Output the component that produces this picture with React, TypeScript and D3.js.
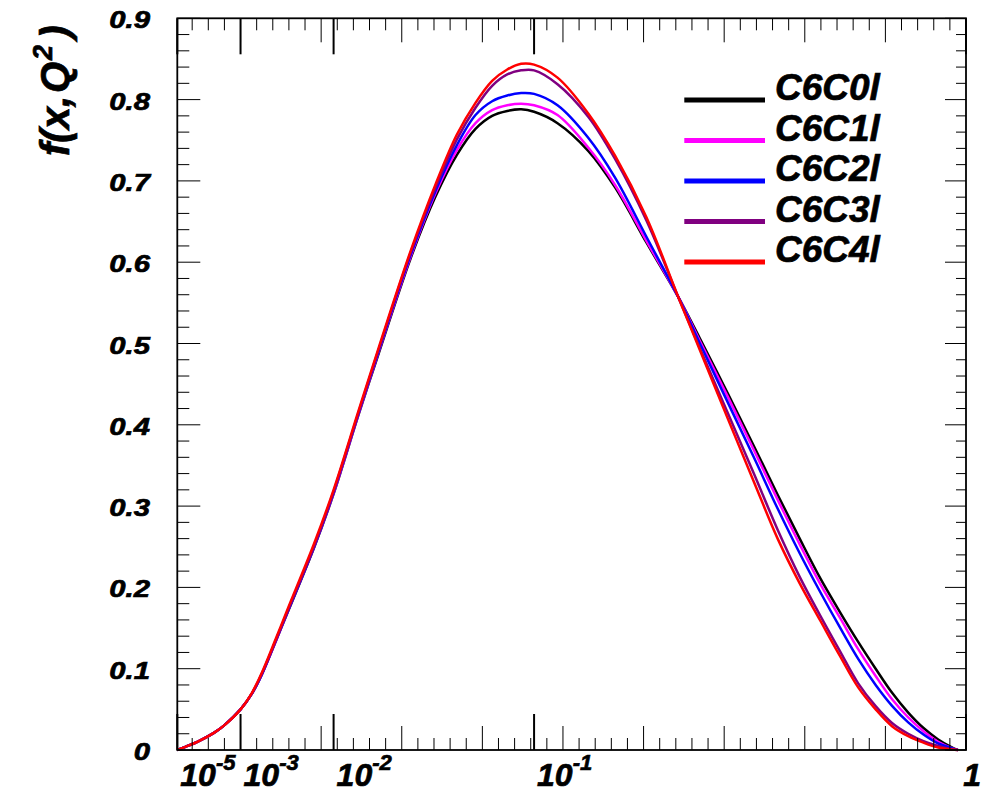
import React from "react";
import * as d3 from "d3";

// ---- data ----
const xValues = [
  1e-5, 5e-5, 1e-4, 3e-4, 5e-4, 1e-3, 1.5e-3, 2e-3, 3e-3, 4e-3, 7e-3, 0.01,
  0.015, 0.02, 0.03, 0.04, 0.05, 0.06, 0.07, 0.08, 0.09, 0.1, 0.12, 0.15, 0.18,
  0.22, 0.266, 0.3, 0.35, 0.4, 0.45, 0.5, 0.55, 0.6, 0.65, 0.7, 0.75, 0.8, 0.85,
  0.9, 0.95, 0.97,
];

const c6c0l = [
  0, 0.006, 0.01, 0.021, 0.03, 0.05, 0.07, 0.092, 0.135, 0.17, 0.249, 0.315,
  0.413, 0.488, 0.604, 0.681, 0.732, 0.764, 0.78, 0.786, 0.788, 0.785, 0.771,
  0.737, 0.692, 0.624, 0.557, 0.507, 0.438, 0.374, 0.314, 0.26, 0.211, 0.17,
  0.133, 0.1, 0.07, 0.046, 0.027, 0.013, 0.003, 0,
];
const c6c1l = [
  0, 0.006, 0.01, 0.021, 0.03, 0.05, 0.07, 0.092, 0.135, 0.171, 0.25, 0.316,
  0.414, 0.49, 0.606, 0.685, 0.738, 0.771, 0.787, 0.793, 0.795, 0.793, 0.781,
  0.741, 0.695, 0.626, 0.557, 0.504, 0.434, 0.369, 0.308, 0.253, 0.204, 0.163,
  0.124, 0.091, 0.062, 0.04, 0.023, 0.01, 0.002, 0,
];
const c6c2l = [
  0, 0.006, 0.01, 0.021, 0.03, 0.05, 0.07, 0.092, 0.136, 0.171, 0.25, 0.317,
  0.415, 0.491, 0.608, 0.688, 0.744, 0.781, 0.798, 0.805, 0.808, 0.807, 0.793,
  0.753, 0.704, 0.631, 0.557, 0.501, 0.427, 0.36, 0.297, 0.242, 0.194, 0.151,
  0.112, 0.08, 0.054, 0.034, 0.019, 0.008, 0.002, 0,
];
const c6c3l = [
  0, 0.006, 0.01, 0.021, 0.03, 0.05, 0.07, 0.093, 0.136, 0.172, 0.251, 0.318,
  0.416, 0.493, 0.611, 0.692, 0.751, 0.79, 0.817, 0.831, 0.836, 0.836, 0.819,
  0.779, 0.727, 0.651, 0.557, 0.495, 0.414, 0.34, 0.271, 0.213, 0.165, 0.122,
  0.082, 0.054, 0.033, 0.02, 0.011, 0.005, 0.001, 0,
];
const c6c4l = [
  0, 0.006, 0.01, 0.021, 0.03, 0.05, 0.071, 0.094, 0.138, 0.174, 0.254, 0.32,
  0.418, 0.495, 0.613, 0.696, 0.757, 0.796, 0.823, 0.837, 0.844, 0.843, 0.827,
  0.783, 0.731, 0.655, 0.557, 0.493, 0.407, 0.33, 0.26, 0.205, 0.159, 0.116,
  0.077, 0.05, 0.029, 0.017, 0.009, 0.003, 0.0005, 0,
];

const seriesNames = ["C6C0l", "C6C1l", "C6C2l", "C6C3l", "C6C4l"];
const seriesColors = ["#000000", "#ff00ff", "#0000ff", "#800080", "#ff0000"];
const seriesValues = [c6c0l, c6c1l, c6c2l, c6c3l, c6c4l];

const xMajorTicks = [1e-5, 1e-3, 1e-2, 1e-1, 1];
const xTickBase = ["10", "10", "10", "10", "1"];
const xTickExp = ["-5", "-3", "-2", "-1", ""];
const yTickLabels = ["0", "0.1", "0.2", "0.3", "0.4", "0.5", "0.6", "0.7", "0.8", "0.9"];

const FONT = "'Liberation Sans', Arial, Helvetica, sans-serif";

export default function App() {
  const left = 177.3;
  const right = 966;
  const top = 18.3;
  const bottom = 750;

  const x = d3.scalePow().exponent(1 / 3).domain([1e-5, 1]).range([left, right]);
  const y = d3.scaleLinear().domain([0, 0.9]).range([bottom, top]);

  // minor ticks linear in x^(1/3), every 0.02; longer each 0.1
  const tMinor = d3.range(2, 50).map((i) => ({ t: i * 0.02, long: i % 5 === 0 }));
  const yMinor = d3.range(0, 46).map((i) => ({ v: i * 0.02, major: i % 5 === 0 }));

  const line = d3
    .line<number>()
    .x((_, i) => x(xValues[i]))
    .y((d) => y(d))
    .curve(d3.curveCatmullRom.alpha(0.5));

  const legendY0 = 100;
  const legendStep = 40.5;
  const textStroke = { stroke: "#000", strokeWidth: 0.7 };

  return (
    <svg
      width={982}
      height={792}
      style={{ position: "absolute", left: 0, top: 0, background: "#fff" }}
      fontFamily={FONT}
    >
      <rect x={0} y={0} width={982} height={792} fill="#fff" />
      <defs>
        <clipPath id="clip">
          <rect x={left} y={top} width={right - left} height={bottom - top + 2} />
        </clipPath>
      </defs>

      {/* curves */}
      <g clipPath="url(#clip)">
        {seriesValues.map((vals, k) => (
          <path
            key={seriesNames[k]}
            d={line(vals) || ""}
            fill="none"
            stroke={seriesColors[k]}
            strokeWidth={2.5}
            strokeLinejoin="round"
          />
        ))}
      </g>

      {/* x minor / long ticks bottom and top */}
      {tMinor.map(({ t, long }, i) => {
        const px = x(t * t * t);
        const len = long ? 24 : 12;
        return (
          <g key={"xt" + i} stroke="#000" strokeWidth={1}>
            <line x1={px} x2={px} y1={bottom} y2={bottom - len} />
            <line x1={px} x2={px} y1={top} y2={top + len} />
          </g>
        );
      })}
      {xMajorTicks.map((v, i) => {
        const px = x(v);
        return (
          <g key={"xm" + i} stroke="#000" strokeWidth={2}>
            <line x1={px} x2={px} y1={bottom} y2={bottom - 36} />
            <line x1={px} x2={px} y1={top} y2={top + 36} />
          </g>
        );
      })}

      {/* y ticks left and right */}
      {yMinor.map(({ v, major }, i) => {
        const py = y(v);
        return (
          <g key={"yt" + i} stroke="#000" strokeWidth={1}>
            <line x1={left} x2={left + (major ? 23 : 12)} y1={py} y2={py} />
            <line x1={right} x2={right - (major ? 21 : 10)} y1={py} y2={py} />
          </g>
        );
      })}

      {/* frame */}
      <rect
        x={left}
        y={top}
        width={right - left}
        height={bottom - top}
        fill="none"
        stroke="#000"
        strokeWidth={1.8}
      />

      {/* y tick labels */}
      {yTickLabels.map((lab, i) => (
        <text
          key={"yl" + i}
          transform={`translate(150,${y(i * 0.1) + 2}) scale(1.22,1)`}
          textAnchor="end"
          dominantBaseline="central"
          fontSize={24}
          fontWeight="bold"
          fontStyle="italic"
          fill="#000"
          {...textStroke}
        >
          {lab}
        </text>
      ))}

      {/* x tick labels */}
      {xMajorTicks.map((v, i) => {
        const last = i === xMajorTicks.length - 1;
        return (
          <text
            key={"xl" + i}
            x={last ? 981 : x(v) + 3}
            y={786}
            textAnchor={last ? "end" : "start"}
            fontSize={32}
            fontWeight="bold"
            fontStyle="italic"
            fill="#000"
            {...textStroke}
          >
            {xTickBase[i]}
            {xTickExp[i] ? (
              <tspan dy={-16} fontSize={22}>
                {xTickExp[i]}
              </tspan>
            ) : null}
          </text>
        );
      })}

      {/* y-axis title */}
      <text
        transform="translate(69,156) rotate(-90)"
        fontSize={40}
        fontWeight="bold"
        fontStyle="italic"
        fill="#000"
        {...textStroke}
      >
        <tspan>f(x,</tspan>
        <tspan dx={3}>Q</tspan>
        <tspan dy={-17} dx={2} fontSize={27}>
          2
        </tspan>
        <tspan dy={17} dx={6}>
          )
        </tspan>
      </text>

      {/* legend */}
      {seriesNames.map((name, k) => {
        const ly = legendY0 + k * legendStep;
        return (
          <g key={"lg" + k}>
            <line x1={684.3} x2={765} y1={ly} y2={ly} stroke={seriesColors[k]} strokeWidth={5} />
            <text
              x={775}
              y={ly}
              fontSize={37}
              fontWeight="bold"
              fontStyle="italic"
              fill="#000"
              {...textStroke}
            >
              {name}
            </text>
          </g>
        );
      })}
    </svg>
  );
}
